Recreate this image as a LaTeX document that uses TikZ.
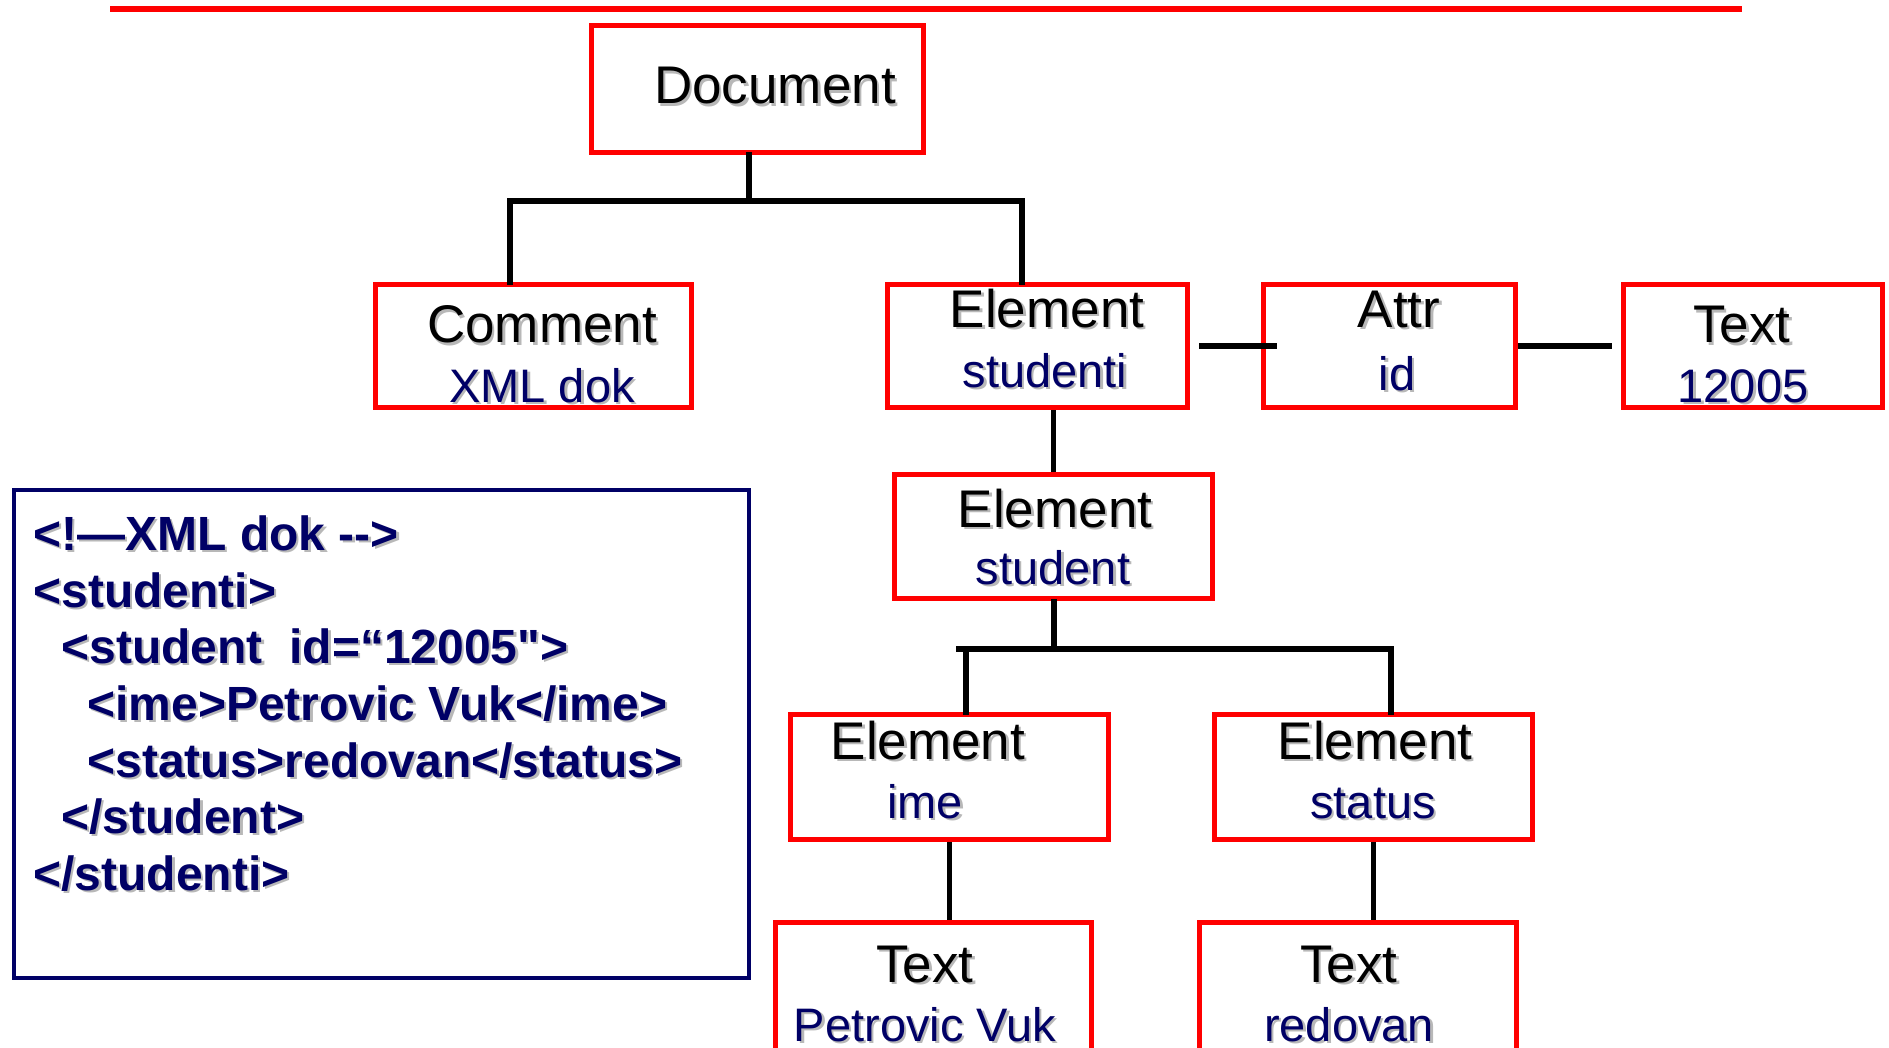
\documentclass[tikz,border=0pt]{standalone}
\usepackage{fontspec}
\setmainfont{Liberation Sans}
\newfontfamily\codefont[Ligatures=TeXOff]{Liberation Sans}
\usetikzlibrary{calc}
\definecolor{navy}{RGB}{0,0,102}
\definecolor{rd}{RGB}{255,0,0}
\newcommand\shd[1]{\makebox[0pt][l]{\kern1.2pt\raisebox{-1.2pt}{\textcolor{black!28}{#1}}}#1}
\begin{document}
\begin{tikzpicture}[x=0.5pt,y=-0.5pt,
  box/.style={draw=rd, line width=2.8pt, rectangle, inner sep=0pt},
  conn/.style={line width=2.8pt, black, line cap=rect},
  lab/.style={anchor=base, inner sep=0pt, font=\fontsize{26.5}{30}\selectfont},
  sub/.style={anchor=base, inner sep=0pt, text=navy, font=\fontsize{23.5}{28}\selectfont},
  code/.style={anchor=base west, inner sep=0pt, text=navy, font=\codefont\bfseries\fontsize{24}{28}\selectfont}]
\useasboundingbox (0,0) rectangle (1889,1048);
\clip (0,0) rectangle (1889,1048);
\fill[white] (0,0) rectangle (1889,1048);

% top red rule
\coordinate (ruleL) at (110,9);
\coordinate (ruleR) at (1742,9);
\draw[rd, line width=2.6pt] (ruleL) -- (ruleR);

% boxes
\node[box, minimum width=166pt, minimum height=63.5pt] (doc) at (757.5,89) {};
\node[box, minimum width=158pt, minimum height=61.5pt] (com) at (533.5,346) {};
\node[box, minimum width=150pt, minimum height=61.5pt] (els) at (1037.5,346) {};
\node[box, minimum width=126pt, minimum height=61.5pt] (attr) at (1389.5,346) {};
\node[box, minimum width=129.5pt, minimum height=61.5pt] (txt1) at (1753,346) {};
\node[box, minimum width=159pt, minimum height=62pt] (elst) at (1053.5,536.5) {};
\node[box, minimum width=159pt, minimum height=62.5pt] (elime) at (949.5,777) {};
\node[box, minimum width=159pt, minimum height=62.5pt] (elstat) at (1373.5,777) {};
\node[box, minimum width=158pt, minimum height=97.5pt] (txpv) at (933.5,1020) {};
\node[box, minimum width=158.5pt, minimum height=97.5pt] (txred) at (1358,1020) {};

% code box
\node[draw=navy, line width=2.4pt, rectangle, inner sep=0pt, minimum width=367.5pt, minimum height=244pt] (codebox) at (381.5,734) {};

% labels
\node[lab] (ldoc) at (775,104) {\shd{Document}};
\node[lab] (lcom) at (542,343) {\shd{Comment}};
\node[sub] (lcom2) at (542,402) {\shd{XML dok}};
\node[lab] (lels) at (1047,327) {\shd{Element}};
\node[sub] (lels2) at (1045,387) {\shd{studenti}};
\node[lab] (lattr) at (1399,327) {\shd{Attr}};
\node[sub] (lattr2) at (1397,390) {\shd{id}};
\node[lab] (ltxt1) at (1742,343) {\shd{Text}};
\node[sub] (ltxt12) at (1743,402) {\shd{12005}};
\node[lab] (lelst) at (1055,527) {\shd{Element}};
\node[sub] (lelst2) at (1053,584) {\shd{student}};
\node[lab] (lelime) at (928,759) {\shd{Element}};
\node[sub] (lelime2) at (925,818) {\shd{ime}};
\node[lab] (lelstat) at (1375,759) {\shd{Element}};
\node[sub] (lelstat2) at (1373,818) {\shd{status}};
\node[lab] (ltxpv) at (925,982) {\shd{Text}};
\node[sub] (ltxpv2) at (925,1041) {\shd{Petrovic Vuk}};
\node[lab] (ltxred) at (1349,982) {\shd{Text}};
\node[sub] (ltxred2) at (1349,1041) {\shd{redovan}};

% code lines
\node[code] (c1) at (33,550) {\shd{<!—XML dok -->}};
\node[code] (c2) at (33,607) {\shd{<studenti>}};
\node[code] (c3) at (61,663) {\shd{<student\ \ id=“12005">}};
\node[code] (c4) at (87,720) {\shd{<ime>Petrovic Vuk</ime>}};
\node[code] (c5) at (87,777) {\shd{<status>redovan</status>}};
\node[code] (c6) at (61,833) {\shd{</student>}};
\node[code] (c7) at (33,890) {\shd{</studenti>}};

% connectors
\coordinate (j1) at (749,201);
\coordinate (j1a) at (510,201);
\coordinate (j1b) at (1022,201);
\draw[conn] (doc.south -| j1) -- (j1);
\draw[conn] (j1a) -- (j1b);
\draw[conn] (j1a) -- (j1a |- com.north);
\draw[conn] (j1b) -- (j1b |- els.north);

\draw[conn, line width=3pt, line cap=butt] ($(els.east)+(9,0)$) -- ($(attr.west)+(16,0)$);
\draw[conn, line width=3pt, line cap=butt] (attr.east) -- ($(txt1.west)+(-9,0)$);

\draw[conn, line cap=butt] (elst.north |- els.south) -- (elst.north);

\coordinate (j2) at (1054,649);
\coordinate (j2a) at (966,649);
\coordinate (j2b) at (1391,649);
\draw[conn] (elst.south -| j2) -- (j2);
\draw[conn] ($(j2a)+(-7,0)$) -- (j2b);
\draw[conn] (j2a) -- (j2a |- elime.north);
\draw[conn] (j2b) -- (j2b |- elstat.north);

\draw[conn, line cap=butt] (elime.south) -- (elime.south |- txpv.north);
\draw[conn, line cap=butt] (elstat.south) -- (elstat.south |- txred.north);
\end{tikzpicture}
\end{document}
